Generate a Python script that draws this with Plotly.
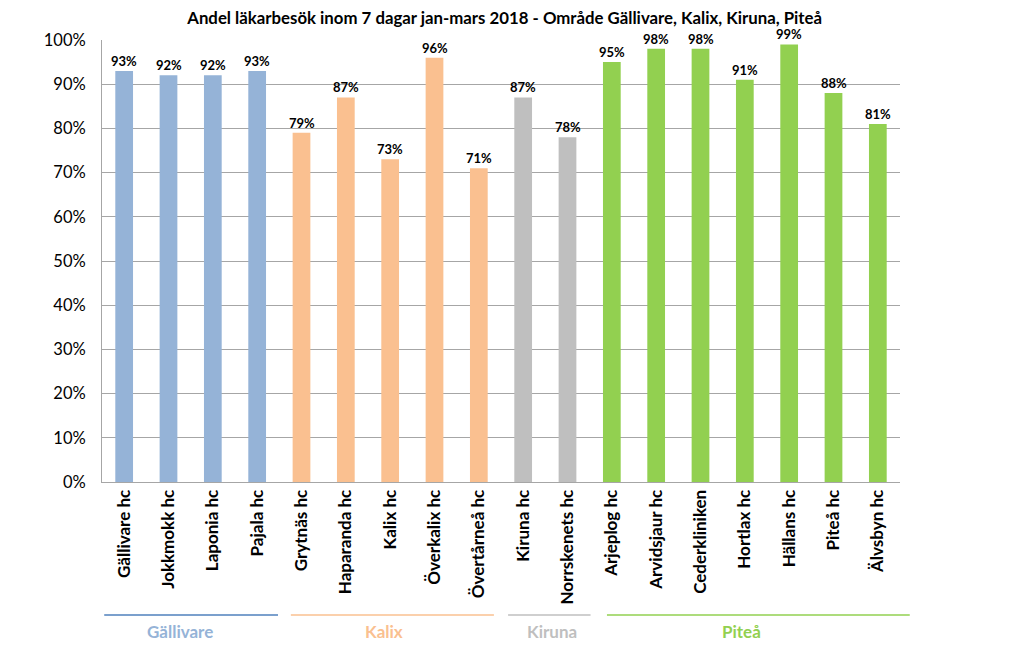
import plotly.graph_objects as go

units = ["Gällivare hc", "Jokkmokk hc", "Laponia hc", "Pajala hc",
         "Grytnäs hc", "Haparanda hc", "Kalix hc", "Överkalix hc", "Övertårneå hc",
         "Kiruna hc", "Norrskenets hc",
         "Arjeplog hc", "Arvidsjaur hc", "Cederkliniken", "Hortlax hc", "Hällans hc", "Piteå hc", "Älvsbyn hc"]
values = [93, 92, 92, 93,
          79, 87, 73, 96, 71,
          87, 78,
          95, 98, 98, 91, 99, 88, 81]
areas = ["Gällivare"] * 4 + ["Kalix"] * 5 + ["Kiruna"] * 2 + ["Piteå"] * 7

area_names = ["Gällivare", "Kalix", "Kiruna", "Piteå"]
area_colors = {"Gällivare": "#95B3D7", "Kalix": "#FAC090", "Kiruna": "#BFBFBF", "Piteå": "#92D050"}
line_colors = {"Gällivare": "#4F81BD", "Kalix": "#FAC090", "Kiruna": "#BFBFBF", "Piteå": "#92D050"}

# hand-drawn looking brackets: (start pad, end pad, label shift) in category units
bracket_style = {"Gällivare": (-0.45, 0.47, -0.23), "Kalix": (-0.24, 0.34, -0.13),
                 "Kiruna": (-0.34, 0.52, 0.14), "Piteå": (-0.11, 0.72, -0.07)}

fig = go.Figure()
fig.add_trace(go.Bar(
    x=units, y=values,
    marker=dict(color=[area_colors[a] for a in areas], line=dict(width=0)),
    width=0.4,
))

# value labels sitting just above the bars
for u, v in zip(units, values):
    fig.add_annotation(x=u, y=v, text=f"<b>{v}%</b>", showarrow=False,
                       yanchor="bottom", yshift=0,
                       font=dict(family="Lato", size=13, color="black"))

# group brackets under the category labels (paper coords so they can run past the plot edge)
n = len(units)
for name in area_names:
    idx = [i for i, a in enumerate(areas) if a == name]
    p0, p1, shift = bracket_style[name]
    fig.add_shape(type="line", xref="paper", yref="paper",
                  x0=(idx[0] + p0 + 0.5) / n, x1=(idx[-1] + p1 + 0.5) / n,
                  y0=-0.301, y1=-0.301, line=dict(color=line_colors[name], width=1.5))
    fig.add_annotation(xref="x", yref="paper", x=(idx[0] + idx[-1]) / 2 + shift, y=-0.339,
                       yanchor="middle", xanchor="center",
                       text=f"<b>{name}</b>", showarrow=False,
                       font=dict(family="Lato", size=17, color=area_colors[name]))

fig.update_layout(
    width=1024, height=670,
    margin=dict(l=94, r=132, t=32, b=196, autoexpand=False),
    paper_bgcolor="white", plot_bgcolor="white",
    showlegend=False,
    title=dict(text="<b>Andel läkarbesök inom 7 dagar jan-mars 2018 - Område Gällivare, Kalix, Kiruna, Piteå</b>",
               x=0.485, xanchor="center", y=0.985, yanchor="middle", pad=dict(t=0, b=0),
               font=dict(family="Lato", size=16.8, color="black")),
    bargap=0.6,
)
fig.update_xaxes(
    tickangle=-90, tickfont=dict(family="Lato", size=17, color="black", weight="bold"),
    showline=True, linecolor="#A6A6A6", linewidth=1, ticks="", showgrid=False,
    range=[-0.5, n - 0.5], automargin=False,
)
fig.update_yaxes(
    range=[0, 100], dtick=10, ticksuffix="%",
    tickfont=dict(family="Lato", size=16.5, color="black"),
    ticklabelstandoff=12,
    showgrid=True, gridcolor="#A6A6A6", gridwidth=1,
    showline=True, linecolor="#A6A6A6", linewidth=1, ticks="", zeroline=False,
    automargin=False,
)

fig.write_html("out.html")
